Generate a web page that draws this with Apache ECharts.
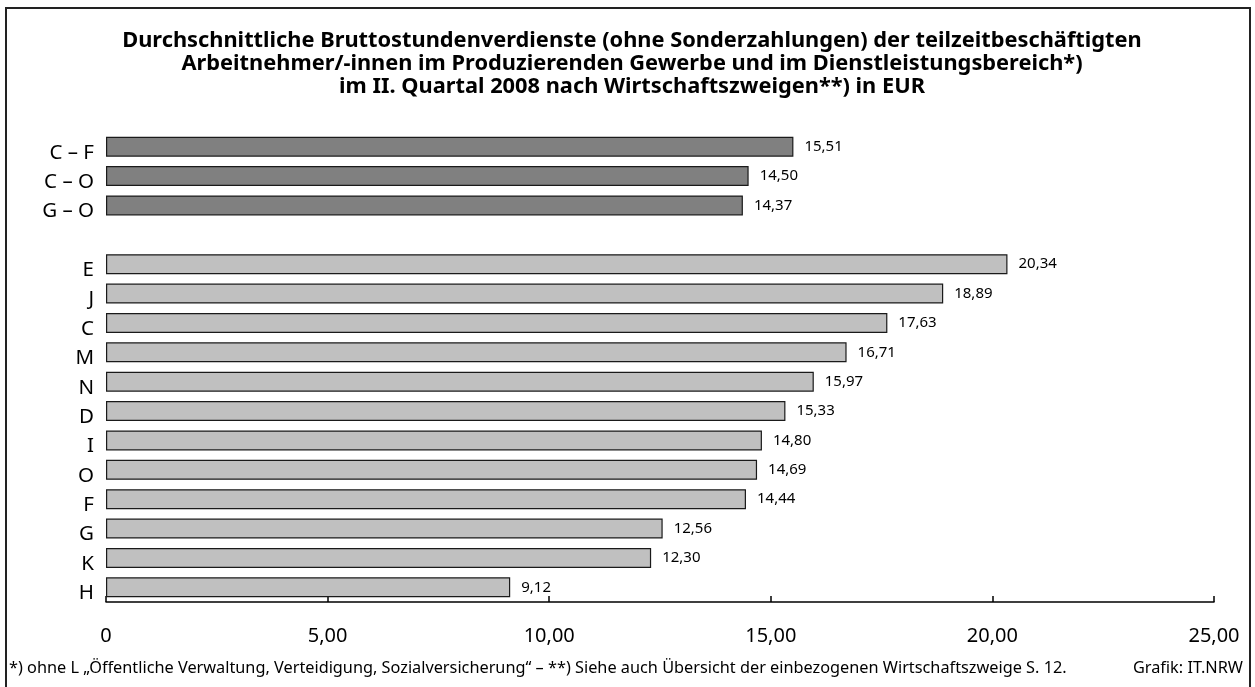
<!DOCTYPE html>
<html>
<head>
<meta charset="utf-8">
<script src="https://cdn.jsdelivr.net/npm/echarts@6/dist/echarts.min.js"></script>
<style>
  html, body { margin: 0; padding: 0; background: #fff; }
  #chart { width: 1255px; height: 687px; }
</style>
</head>
<body>
<div id="chart"></div>
<script>
// Gesamtwerte (oben, dunkel)
var totalCats = ['C – F', 'C – O', 'G – O'];
var totalVals = [15.51, 14.50, 14.37];
// Wirtschaftszweige (unten, hell)
var branchCats = ['E', 'J', 'C', 'M', 'N', 'D', 'I', 'O', 'F', 'G', 'K', 'H'];
var branchVals = [20.34, 18.89, 17.63, 16.71, 15.97, 15.33, 14.80, 14.69, 14.44, 12.56, 12.30, 9.12];
var xTicks = [0, 5, 10, 15, 20, 25];

var fontFam = '"Noto Sans", "Open Sans", sans-serif';

// leere Zeile zwischen den beiden Gruppen
var cats = totalCats.concat(['']).concat(branchCats);
var vals = totalVals.concat([null]).concat(branchVals);

function fmt(v) {
    return v.toFixed(2).replace('.', ',');
}

var myChart = echarts.init(document.getElementById('chart'));

var option = {
    backgroundColor: '#fff',
    animation: false,
    title: {
        text: 'Durchschnittliche Bruttostundenverdienste (ohne Sonderzahlungen) der teilzeitbeschäftigten\nArbeitnehmer/-innen im Produzierenden Gewerbe und im Dienstleistungsbereich*)\nim II. Quartal 2008 nach Wirtschaftszweigen**) in EUR',
        left: 627,
        top: 24,
        textAlign: 'center',
        textStyle: {
            fontFamily: fontFam,
            fontSize: 21.8,
            fontWeight: 'bold',
            color: '#000',
            lineHeight: 23
        }
    },
    grid: {
        left: 106,
        right: 41,
        top: 132,
        bottom: 85
    },
    xAxis: {
        type: 'value',
        min: xTicks[0],
        max: xTicks[xTicks.length - 1],
        interval: 5,
        axisLine: { show: true, lineStyle: { color: '#000', width: 1.5 } },
        axisTick: { show: true, inside: true, length: 6, lineStyle: { color: '#000', width: 1.5 } },
        splitLine: { show: false },
        axisLabel: {
            margin: 24,
            fontFamily: fontFam,
            fontSize: 20,
            color: '#000',
            formatter: function (v) { return v === 0 ? '0' : fmt(v); }
        }
    },
    yAxis: {
        type: 'category',
        data: cats,
        inverse: true,
        axisLine: { show: false },
        axisTick: { show: false },
        axisLabel: {
            margin: 12,
            color: '#000',
            formatter: function (v) { return '{c|' + v + '}'; },
            rich: {
                c: {
                    fontFamily: fontFam,
                    fontSize: 20.5,
                    color: '#000',
                    padding: [12, 0, 0, 0]
                }
            }
        }
    },
    series: [{
        type: 'bar',
        data: vals,
        barWidth: 20,
        itemStyle: {
            color: function (p) {
                return p.dataIndex < totalCats.length ? '#808080' : '#c0c0c0';
            },
            borderColor: '#1a1a1a',
            borderWidth: 1.2
        },
        label: {
            show: true,
            position: 'right',
            distance: 11,
            fontFamily: fontFam,
            fontSize: 15,
            color: '#000',
            formatter: function (p) { return p.value == null ? '' : fmt(p.value); }
        }
    }],
    graphic: [
        {
            type: 'rect',
            shape: { x: 6, y: 8, width: 1244, height: 700 },
            style: { fill: 'none', stroke: '#222', lineWidth: 2 }
        },
        {
            type: 'text',
            left: 9,
            top: 660,
            style: {
                text: '*) ohne L „Öffentliche Verwaltung, Verteidigung, Sozialversicherung“ – **) Siehe auch Übersicht der einbezogenen Wirtschaftszweige S. 12.',
                fontFamily: fontFam,
                fontSize: 16.3,
                fill: '#000'
            }
        },
        {
            type: 'text',
            right: 12,
            top: 660,
            style: {
                text: 'Grafik: IT.NRW',
                fontFamily: fontFam,
                fontSize: 16.3,
                fill: '#000'
            }
        }
    ]
};

myChart.setOption(option);
</script>
</body>
</html>
